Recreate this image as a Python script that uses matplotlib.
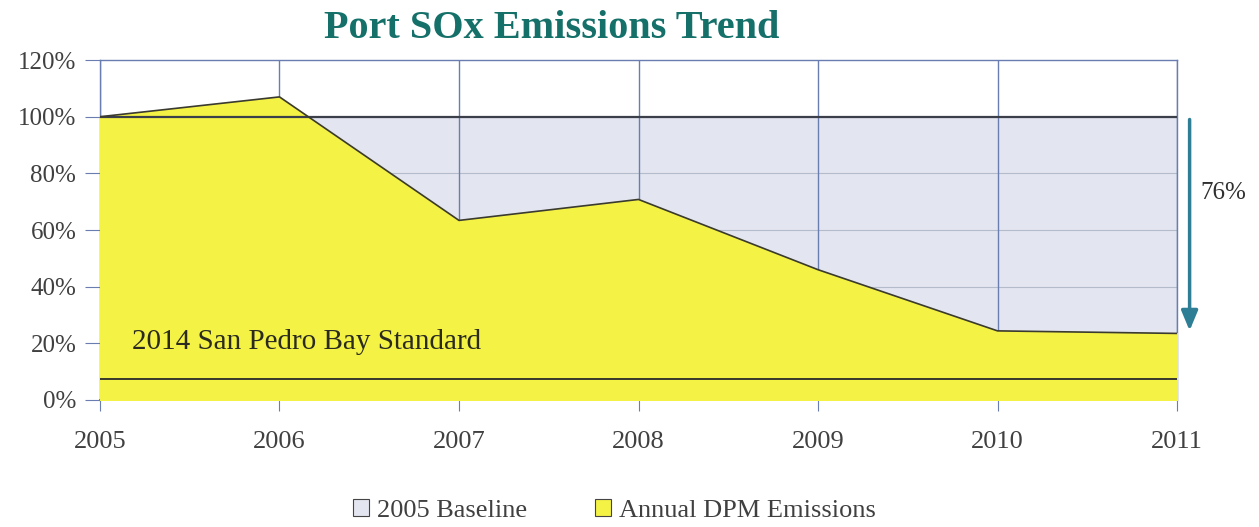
import matplotlib.pyplot as plt
import numpy as np

plt.rcParams['font.family'] = ['Liberation Serif', 'DejaVu Serif']

years = [2005, 2006, 2007, 2008, 2009, 2010, 2011]
emissions = [100, 107, 63.4, 70.8, 46, 24.4, 23.5]
baseline = [100] * 7
standard = 7.3
y_ticks = [0, 20, 40, 60, 80, 100, 120]
y_labels = ['0%', '20%', '40%', '60%', '80%', '100%', '120%']

fig = plt.figure(figsize=(12.59, 5.27), dpi=100)
ax = fig.add_axes([0.0794, 0.241, 0.8555, 0.645])

grid_blue = '#6a7db0'
txt = '#404040'

# baseline area
ax.fill_between(years, 0, baseline, color='#e3e6f0', zorder=1, label='2005 Baseline')
ax.plot(years, baseline, color='#3a3f4a', lw=1.6, zorder=4)

# gridlines
for yv in y_ticks[1:-1]:
    ax.axhline(yv, color='#b4bccc', lw=0.8, zorder=2)
for xv in years:
    ax.axvline(xv, color=grid_blue, lw=1.0, zorder=2)

# annual emissions area
ax.fill_between(years, 0, emissions, color='#f4f245', zorder=3, label='Annual DPM Emissions')
ax.plot(years, emissions, color='#3a3a30', lw=1.2, zorder=4)

# standard line
ax.axhline(standard, color='#2a2a2a', lw=1.3, zorder=5)
ax.text(2005.18, 20.5, '2014 San Pedro Bay Standard', fontsize=21, color='#2a2a20',
        va='center', ha='left', zorder=6)

ax.set_xlim(2005, 2011)
ax.set_ylim(0, 120)
ax.set_xticks(years)
ax.set_xticklabels([str(y) for y in years], fontsize=19, color=txt)
ax.set_yticks(y_ticks)
ax.set_yticklabels(y_labels, fontsize=18, color=txt)
ax.tick_params(axis='y', length=11, color=grid_blue, pad=6)
ax.tick_params(axis='x', length=8, color=grid_blue, pad=14)
for s in ax.spines.values():
    s.set_color(grid_blue)
    s.set_linewidth(1.0)
ax.spines['bottom'].set_linewidth(1.4)

# reduction arrow
ax.annotate('', xy=(2011.07, 23.5), xytext=(2011.07, 100),
            xycoords='data', textcoords='data', annotation_clip=False,
            arrowprops=dict(arrowstyle='-|>,head_width=0.5,head_length=1.2',
                            color='#2e7f96', lw=2.5))
ax.text(2011.255, 73, '76%', fontsize=18, color='#303030', ha='center', va='center',
        transform=ax.transData, clip_on=False)

fig.text(0.438, 0.945, 'Port SOx Emissions Trend', fontsize=29, fontweight='bold',
         color='#15706a', ha='center', va='center')

fig.legend(loc='lower center', bbox_to_anchor=(0.488, -0.035), ncol=2, frameon=False,
           fontsize=19, handlelength=0.6, handleheight=0.6, handletextpad=0.3,
           columnspacing=2.6, labelcolor=txt)
leg = fig.legends[0]
for h in leg.legend_handles:
    h.set_edgecolor('#444444')
    h.set_linewidth(0.8)

fig.savefig('out.png', dpi=100)
